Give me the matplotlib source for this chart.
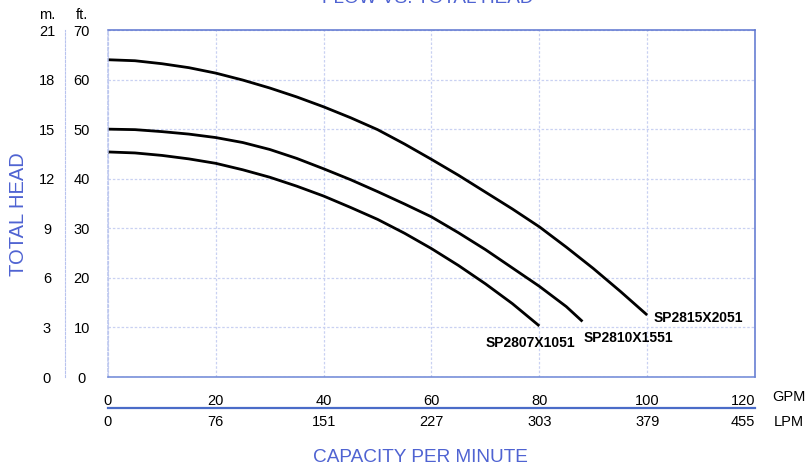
import numpy as np
import matplotlib
matplotlib.use("Agg")
from matplotlib import pyplot as plt

# flow (GPM) vs head (ft)
gpm_2815 = [0, 5, 10, 15, 20, 25, 30, 35, 40, 45, 50, 55, 60, 65, 70, 75, 80, 85, 90, 95, 100]
ft_2815 = [64.0, 63.8, 63.2, 62.4, 61.3, 59.9, 58.3, 56.5, 54.5, 52.3, 49.9,
           47.0, 43.9, 40.7, 37.3, 33.9, 30.3, 26.2, 21.9, 17.3, 12.5]
gpm_2810 = [0, 5, 10, 15, 20, 25, 30, 35, 40, 45, 50, 55, 60, 65, 70, 75, 80, 85, 88]
ft_2810 = [50.0, 49.9, 49.5, 49.0, 48.3, 47.3, 45.9, 44.1, 42.0, 39.8, 37.4,
           34.9, 32.3, 29.1, 25.7, 22.0, 18.3, 14.2, 11.2]
gpm_2807 = [0, 5, 10, 15, 20, 25, 30, 35, 40, 45, 50, 55, 60, 65, 70, 75, 80]
ft_2807 = [45.4, 45.2, 44.7, 44.0, 43.1, 41.8, 40.3, 38.5, 36.5, 34.2, 31.8,
           29.0, 25.9, 22.5, 18.8, 14.8, 10.3]
models = ["SP2815X2051", "SP2810X1551", "SP2807X1051"]
# where each model name sits (GPM, ft)
label_pos = [(109.5, 11.9), (96.6, 7.9), (78.3, 6.85)]

gpm_ticks = [0, 20, 40, 60, 80, 100, 120]
lpm_labels = ["0", "76", "151", "227", "303", "379", "455"]
ft_ticks = [0, 10, 20, 30, 40, 50, 60, 70]

blue = "#4f63d2"
grid_c = "#c9d1f2"
lab_font = ["Liberation Sans", "DejaVu Sans"]

W, H = 806, 465
fig = plt.figure(figsize=(W / 100, H / 100), dpi=100)
ax = fig.add_axes([108 / W, 1 - 377 / H, (755 - 108) / W, (377 - 30) / H])

for xs, ys in [(gpm_2815, ft_2815), (gpm_2810, ft_2810), (gpm_2807, ft_2807)]:
    ax.plot(xs, ys, color="black", lw=2.0, solid_capstyle="butt")

# curve labels
for name, (lx, ly) in zip(models, label_pos):
    ax.text(lx, ly, name, fontsize=10, fontweight="bold", family=lab_font,
            ha="center", va="center")

ax.set_xlim(0, 120)
ax.set_ylim(0, 70)

ax.set_xticks(gpm_ticks)
ax.set_xticklabels([str(v) for v in gpm_ticks], family=lab_font, fontsize=10.5)
ax.get_xticklabels()[-1].set_ha("right")
ax.tick_params(axis="x", length=0, pad=12)
ax.set_yticks(ft_ticks)
ax.set_yticklabels([str(v) for v in ft_ticks], family=lab_font, fontsize=10.5)
for lab in ax.get_yticklabels():
    lab.set_ha("center")
ax.tick_params(axis="y", length=0, pad=19)

ax.grid(True, color=grid_c, lw=0.9, ls=(0, (2, 1.5)))
ax.spines["top"].set_color("#5b74cf")
ax.spines["right"].set_color("#5b74cf")
ax.spines["left"].set_color("#b8c3ee")
ax.spines["left"].set_linestyle((0, (2, 1.5)))
ax.spines["bottom"].set_color("#6c86d6")
for s in ax.spines.values():
    s.set_linewidth(1.1)

# metres scale on the left
sec_y = ax.secondary_yaxis((65 - 108) / (755 - 108), functions=(lambda f: f * 0.3, lambda m: m / 0.3))
sec_y.set_yticks([v * 0.3 for v in ft_ticks])
sec_y.set_yticklabels([str(int(round(v * 0.3))) for v in ft_ticks], family=lab_font, fontsize=10.5)
for lab in sec_y.get_yticklabels():
    lab.set_ha("center")
sec_y.tick_params(axis="y", length=0, pad=13)
sec_y.spines["left"].set_color("#b8c3ee")
sec_y.spines["left"].set_linestyle((0, (2, 1.5)))

# LPM scale under the GPM row
sec_x = ax.secondary_xaxis((377 - 408) / (377 - 30))
sec_x.set_xticks(gpm_ticks)
sec_x.set_xticklabels(lpm_labels, family=lab_font, fontsize=10.5)
sec_x.get_xticklabels()[-1].set_ha("right")
sec_x.tick_params(axis="x", length=0, pad=5)
sec_x.spines["bottom"].set_color("#4a6cc8")
sec_x.spines["bottom"].set_linewidth(1.6)

fig.text(789 / W, 1 - 397 / H, "GPM", family=lab_font, fontsize=10.5, ha="center", va="center")
fig.text(789 / W, 1 - 422 / H, "LPM", family=lab_font, fontsize=10.5, ha="center", va="center")
fig.text(47 / W, 1 - 15 / H, "m.", family=lab_font, fontsize=10.5, ha="center", va="center")
fig.text(82 / W, 1 - 15 / H, "ft.", family=lab_font, fontsize=10.5, ha="center", va="center")

fig.text(18.5 / W, 1 - 214 / H, "TOTAL HEAD", color=blue, family=lab_font, fontsize=14.5,
         rotation=90, ha="center", va="center")
fig.text(420 / W, 1 - 462 / H, "CAPACITY PER MINUTE", color=blue, family=lab_font, fontsize=13.7,
         ha="center", va="baseline")
# the title is cut by the top edge in the original
fig.text(428 / W, 1 - 3 / H, "FLOW VS. TOTAL HEAD", color=blue, family=lab_font, fontsize=13.7,
         ha="center", va="baseline")

fig.savefig("out.png", dpi=100)
